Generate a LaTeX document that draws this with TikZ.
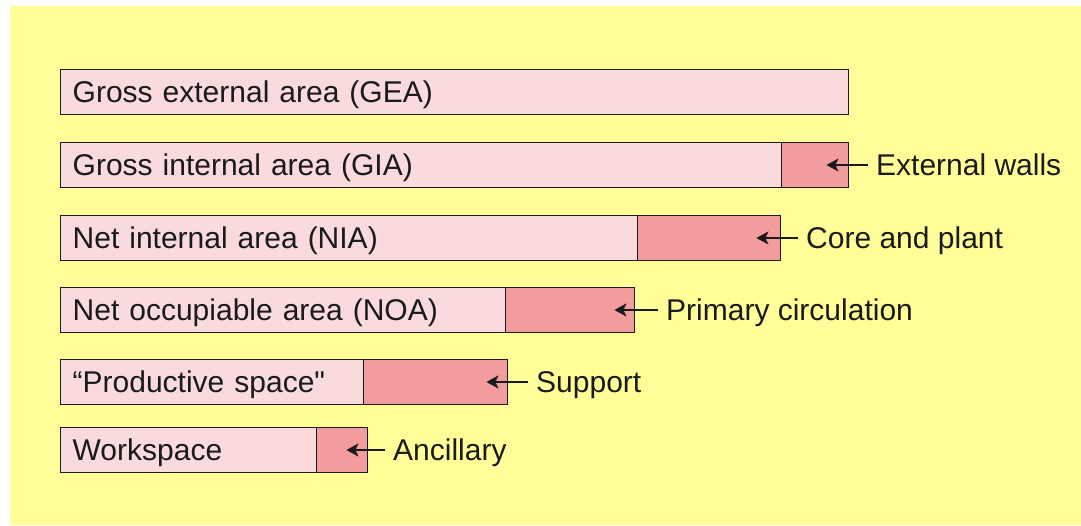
\documentclass[tikz,border=0pt]{standalone}
\usepackage{fontspec}
\setmainfont{Liberation Sans}
\usepackage{tikz}
\usetikzlibrary{arrows.meta,positioning,calc}
\definecolor{paper}{HTML}{FFFE98}
\definecolor{lightpart}{HTML}{F9DBDD}
\definecolor{darkpart}{HTML}{F39C9D}
\definecolor{ink}{HTML}{1A1A1A}
\newcommand{\straightquote}{\XeTeXglyph\the\XeTeXcharglyph"22\relax}
\tikzset{
  areabar/.style={draw=ink, line width=1.4pt, fill=lightpart, minimum height=45pt,
    inner xsep=12pt, inner ysep=0pt, anchor=west, align=left, text=ink,
    text height=21.5pt, text depth=0pt},
  lossbar/.style={draw=ink, line width=1.4pt, fill=darkpart, minimum height=45pt,
    inner sep=0pt, anchor=west},
  losslabel/.style={text=ink, anchor=west, inner xsep=8pt,
    text height=21.5pt, text depth=0pt},
  lossarr/.style={-{Stealth[length=12pt,width=13pt,inset=3pt]}, draw=ink, line width=1.8pt}
}

\begin{document}
\begin{tikzpicture}[x=1pt, y=-1pt, font=\fontsize{30}{34}\selectfont]
  \useasboundingbox (0,0) rectangle (1081,525);
  \fill[paper] (10,6) rectangle (1081,525);

  % Bars (light part holds the name, dark part the loss)
  \node[areabar, text width=764pt] (gea) at (60,92) {Gross external area (GEA)};

  \node[areabar, text width=697pt] (gia) at (60,165) {Gross internal area (GIA)};
  \node[lossbar, minimum width=67pt] (walls) at (781,165) {};

  \node[areabar, text width=553pt] (nia) at (60,238) {Net internal area (NIA)};
  \node[lossbar, minimum width=143pt] (core) at (637,238) {};

  \node[areabar, text width=421pt] (noa) at (60,310) {Net occupiable area (NOA)};
  \node[lossbar, minimum width=129pt] (circ) at (505,310) {};

  \node[areabar, text width=281pt] (prod) at (60,382) {“Productive space\straightquote};
  \node[lossbar, minimum width=144pt] (supp) at (363,382) {};

  \node[areabar, text width=232pt] (work) at (60,450) {Workspace};
  \node[lossbar, minimum width=51pt] (anc) at (316,450) {};

  % Labels and arrows
  \node[losslabel] (wallslbl) at (868,165) {External walls};
  \node[losslabel] (corelbl) at (798,238) {Core and plant};
  \node[losslabel] (circlbl) at (658,310) {Primary circulation};
  \node[losslabel] (supplbl) at (528,382) {Support};
  \node[losslabel] (anclbl) at (385,450) {Ancillary};

  \coordinate (wallstip) at ($(walls.east)+(-23,0)$);
  \coordinate (coretip) at ($(core.east)+(-25,0)$);
  \coordinate (circtip) at ($(circ.east)+(-21,0)$);
  \coordinate (supptip) at ($(supp.east)+(-22,0)$);
  \coordinate (anctip) at ($(anc.east)+(-22,0)$);

  \draw[lossarr] (wallslbl.west) -- (wallstip);
  \draw[lossarr] (corelbl.west) -- (coretip);
  \draw[lossarr] (circlbl.west) -- (circtip);
  \draw[lossarr] (supplbl.west) -- (supptip);
  \draw[lossarr] (anclbl.west) -- (anctip);
\end{tikzpicture}
\end{document}
